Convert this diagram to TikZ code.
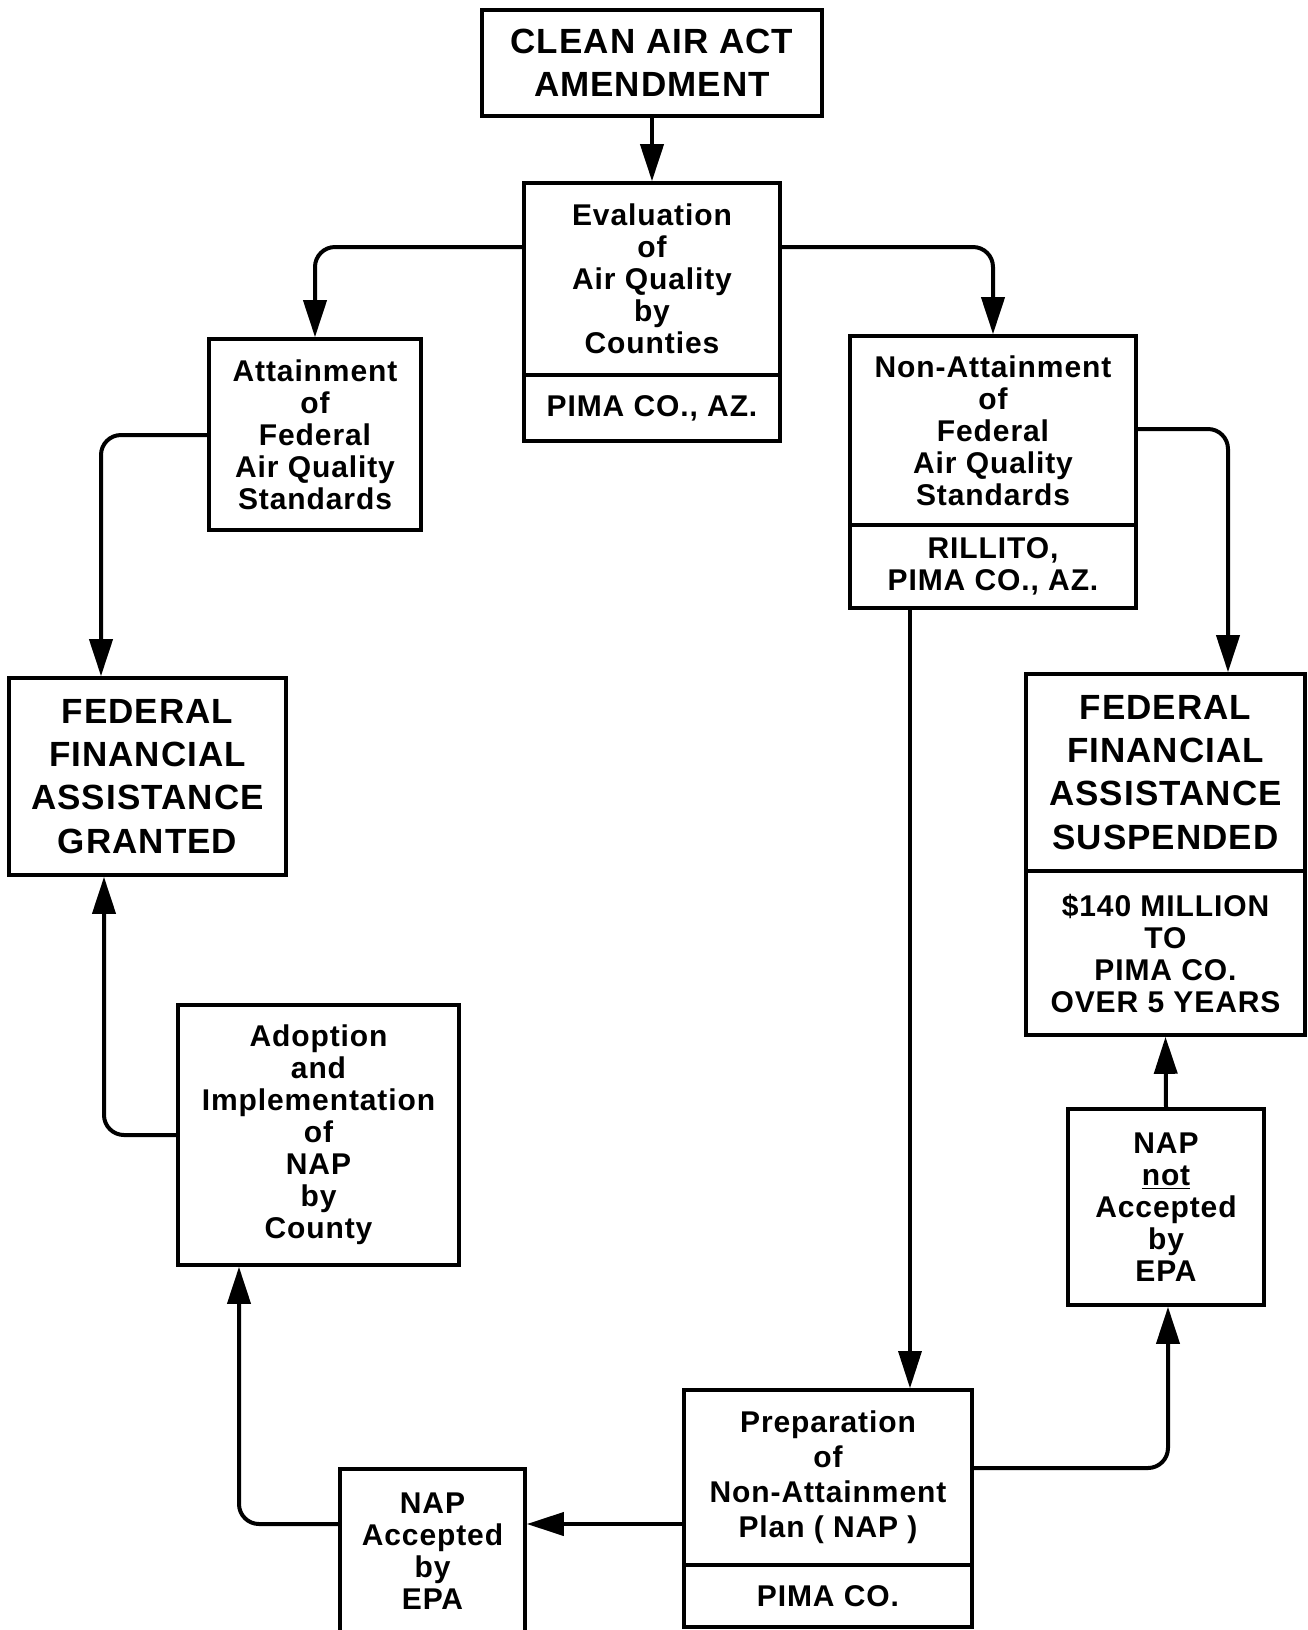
\documentclass[tikz,border=0pt]{standalone}
\usepackage{fontspec}
\setmainfont{Liberation Sans}[LetterSpace=3]
\usetikzlibrary{arrows.meta}
\begin{document}
\begin{tikzpicture}[x=0.5pt,y=-0.5pt,
  box/.style={draw, line width=1.8pt, inner sep=0pt, align=center, fill=white,
    font=\bfseries\fontsize{15}{16}\selectfont},
  big/.style={font=\bfseries\fontsize{17.5}{21.6}\selectfont},
  conn/.style={line width=2pt, rounded corners=10pt},
  arr/.style={-{Triangle[length=18.5pt,width=11.5pt]}}]
\useasboundingbox (0,0) rectangle (1308,1630);
% nodes
\node[box, big, minimum width=170pt, minimum height=53pt] (caa) at (652,63) {CLEAN AIR ACT\\AMENDMENT};
\node[box, minimum width=128pt, minimum height=96pt] (eval) at (652,279) {Evaluation\\of\\Air Quality\\by\\Counties};
\node[box, minimum width=128pt, minimum height=33pt] (evallow) at (652,408) {PIMA CO., AZ.};
\node[box, minimum width=106pt, minimum height=95.5pt] (att) at (315,434.5) {Attainment\\of\\Federal\\Air Quality\\Standards};
\node[box, minimum width=143pt, minimum height=94.5pt] (non) at (993,430.5) {Non-Attainment\\of\\Federal\\Air Quality\\Standards};
\node[box, minimum width=143pt, minimum height=41.5pt] (nonlow) at (993,566.5) {RILLITO,\\PIMA CO., AZ.};
\node[box, big, minimum width=138.5pt, minimum height=98.5pt] (granted) at (147.5,776.5) {FEDERAL\\FINANCIAL\\ASSISTANCE\\GRANTED};
\node[box, big, minimum width=139.5pt, minimum height=98.5pt] (susp) at (1165.5,772.5) {FEDERAL\\FINANCIAL\\ASSISTANCE\\SUSPENDED};
\node[box, minimum width=139.5pt, minimum height=82pt] (susplow) at (1165.5,953) {\$140 MILLION\\TO\\PIMA CO.\\OVER 5 YEARS};
\node[box, minimum width=140.5pt, minimum height=130pt] (adopt) at (318.5,1135) {Adoption\\and\\Implementation\\of\\NAP\\by\\County};
\node[box, minimum width=98pt, minimum height=98pt] (napnot) at (1166,1207) {NAP\\\underline{not}\\Accepted\\by\\EPA};
\node[box, minimum width=144pt, minimum height=87.5pt, font=\bfseries\fontsize{15}{17.5}\selectfont] (prep) at (828,1477.5) {Preparation\\of\\Non-Attainment\\Plan ( NAP )};
\node[box, minimum width=144pt, minimum height=31pt] (preplow) at (828,1596) {PIMA CO.};
\node[box, minimum width=92.5pt, minimum height=82pt] (napacc) at (432.5,1551) {NAP\\Accepted\\by\\EPA};
% connectors
\draw[conn, arr] (caa.south) -- (eval.north);
\draw[conn, arr] (eval.west |- 0,247) -| (att.north);
\draw[conn, arr] (eval.east |- 0,247) -| (non.north);
\draw[conn, arr] (att.west |- 0,435) -| (101,0 |- granted.north);
\draw[conn, arr] (non.east |- 0,429) -| (1228,0 |- susp.north);
\draw[conn, arr, line width=1.6pt] (910,0 |- nonlow.south) -- (910,0 |- prep.north);
\draw[conn, arr] (adopt.west) -| (104,0 |- granted.south);
\draw[conn, arr] (prep.west |- 0,1524) -- (napacc.east |- 0,1524);
\draw[conn, arr] (napacc.west |- 0,1524) -| (239,0 |- adopt.south);
\draw[conn, arr] (prep.east |- 0,1468) -| (1168,0 |- napnot.south);
\draw[conn, arr] (napnot.north) -- (susplow.south);
\end{tikzpicture}
\end{document}
